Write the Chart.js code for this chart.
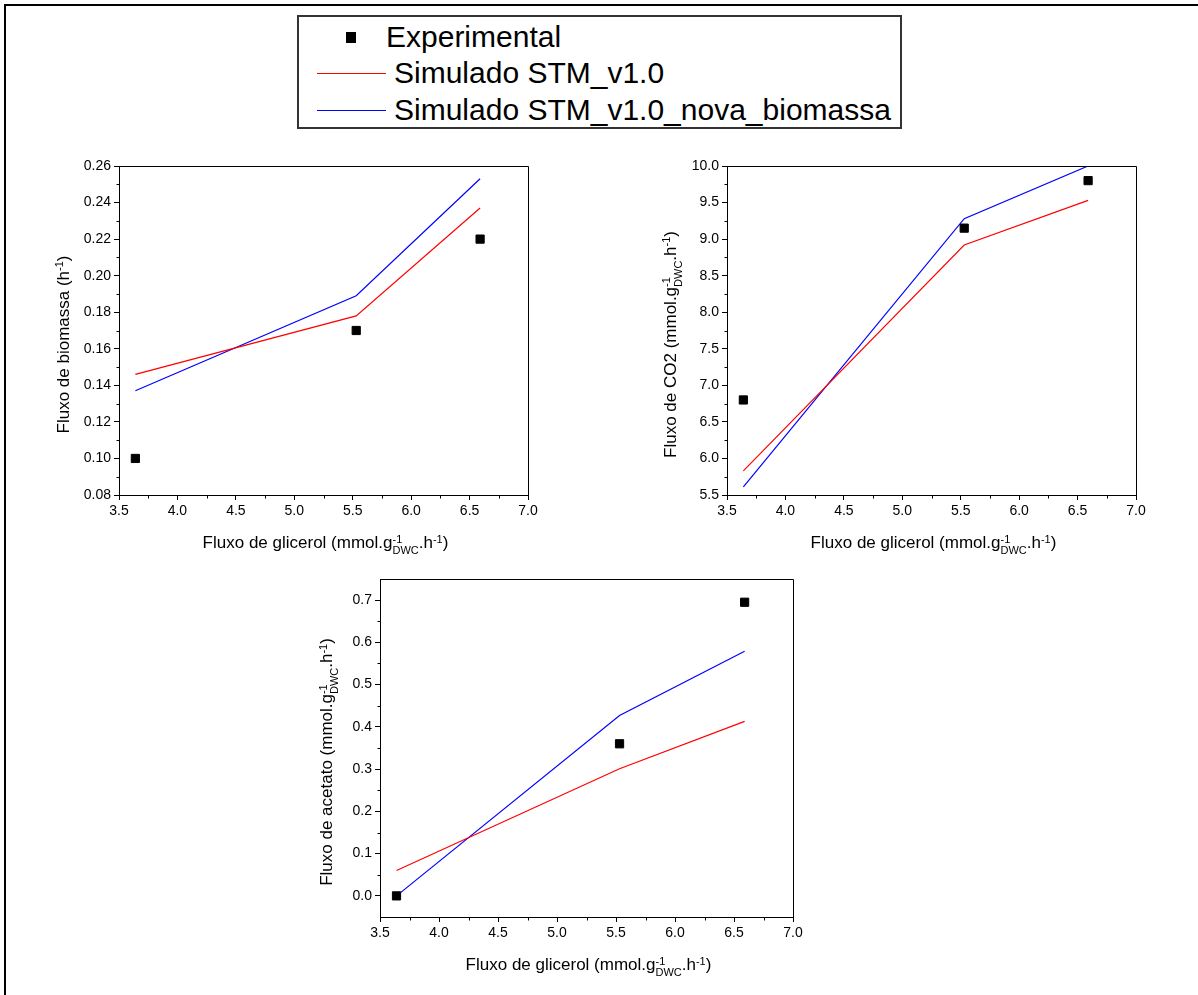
<!DOCTYPE html>
<html lang="pt">
<head>
    <meta charset="UTF-8">
    <title>Fluxos simulados vs experimentais</title>
    <script src="https://cdn.jsdelivr.net/npm/chart.js"></script>
    <style>
        html, body {
            margin: 0;
            padding: 0;
            background: #fff;
            width: 1198px;
            height: 995px;
            overflow: hidden;
            position: relative;
            font-family: "Liberation Sans", Arial, sans-serif;
        }

        #frame {
            position: absolute;
            left: 4px;
            top: 4px;
            width: 1300px;
            height: 1100px;
            border-top: 2px solid #000;
            border-left: 2px solid #000;
        }

        #legend {
            position: absolute;
            left: 297px;
            top: 15px;
            width: 605px;
            height: 114px;
            border: 2px solid #333;
            box-sizing: border-box;
        }

        #legend .txt {
            position: absolute;
            font-size: 30px;
            line-height: 30px;
            color: #000;
            white-space: nowrap;
        }

        #legend .sample {
            position: absolute;
            height: 1px;
        }

        #legend .square {
            position: absolute;
            width: 10px;
            height: 11px;
            background: #000;
        }

        canvas {
            position: absolute;
        }
    </style>
</head>
<body>
    <div id="frame"></div>

    <div id="legend">
        <div class="square" style="left:47px; top:15px;"></div>
        <div class="txt" style="left:87px; top:5px;">Experimental</div>
        <div class="sample" style="left:18px; top:56px; width:69px; background:#ff0000;"></div>
        <div class="txt" style="left:95px; top:41px;">Simulado STM_v1.0</div>
        <div class="sample" style="left:18px; top:93px; width:69px; background:#0000ff;"></div>
        <div class="txt" style="left:95px; top:78px;">Simulado STM_v1.0_nova_biomassa</div>
    </div>

    <canvas id="chartBio"></canvas>
    <canvas id="chartCO2"></canvas>
    <canvas id="chartAce"></canvas>

    <script>
        // valores
        const xGlicerol = [3.64, 5.53, 6.59];
        const xTicks = [3.5, 4.0, 4.5, 5.0, 5.5, 6.0, 6.5, 7.0];

        const bioExp = [0.100, 0.170, 0.220];
        const bioSim = [0.146, 0.178, 0.237];
        const bioNova = [0.137, 0.189, 0.253];
        const bioTicks = [0.08, 0.10, 0.12, 0.14, 0.16, 0.18, 0.20, 0.22, 0.24, 0.26];

        const co2Exp = [6.80, 9.15, 9.80];
        const co2Sim = [5.83, 8.92, 9.53];
        const co2Nova = [5.61, 9.28, 10.0];
        const co2Ticks = [5.5, 6.0, 6.5, 7.0, 7.5, 8.0, 8.5, 9.0, 9.5, 10.0];

        const aceExp = [0.000, 0.360, 0.695];
        const aceSim = [0.060, 0.301, 0.413];
        const aceNova = [0.000, 0.427, 0.579];
        const aceTicks = [0.0, 0.1, 0.2, 0.3, 0.4, 0.5, 0.6, 0.7];

        const xTitle = [{ t: 'Fluxo de glicerol (mmol.g' }, { sup: '-1', sub: 'DWC' }, { t: '.h' }, { sup: '-1' }, { t: ')' }];

        const FONT = '"Liberation Sans", Arial, sans-serif';
        Chart.defaults.font.family = FONT;
        Chart.defaults.color = '#000';

        const PAD_L = 90, PAD_T = 15, PAD_R = 15, PAD_B = 70;

        function pts(ys) {
            return xGlicerol.map((x, i) => ({ x: x, y: ys[i] }));
        }

        // texto com sobrescrito / subscrito
        function drawRich(ctx, segs, x, y, rotate) {
            const big = '17px ' + FONT, small = '11px ' + FONT;
            let total = 0;
            const widths = segs.map(s => {
                let w;
                if (s.t) {
                    ctx.font = big;
                    w = ctx.measureText(s.t).width;
                } else {
                    ctx.font = small;
                    w = Math.max(ctx.measureText(s.sup || '').width, ctx.measureText(s.sub || '').width);
                }
                total += w;
                return w;
            });
            ctx.save();
            ctx.translate(x, y);
            if (rotate) ctx.rotate(-Math.PI / 2);
            ctx.fillStyle = '#000';
            ctx.textAlign = 'left';
            ctx.textBaseline = 'alphabetic';
            let cx = -total / 2;
            segs.forEach((s, i) => {
                if (s.t) {
                    ctx.font = big;
                    ctx.fillText(s.t, cx, 0);
                } else {
                    ctx.font = small;
                    if (s.sup) ctx.fillText(s.sup, cx, -5.5);
                    if (s.sub) ctx.fillText(s.sub, cx, 6);
                }
                cx += widths[i];
            });
            ctx.restore();
        }

        const decor = {
            id: 'decor',
            afterDraw(chart) {
                const ctx = chart.ctx;
                const a = chart.chartArea;
                const o = chart.options.plugins.decor;
                const xs = chart.scales.x, ys = chart.scales.y;

                ctx.save();
                ctx.strokeStyle = '#000';
                ctx.lineWidth = 1;
                ctx.beginPath();
                // caixa do gráfico (topo e direita)
                const L = Math.round(a.left) + 0.5, R = Math.round(a.right) + 0.5;
                const T = Math.round(a.top) + 0.5, B = Math.round(a.bottom) + 0.5;
                ctx.moveTo(L, T); ctx.lineTo(R, T); ctx.lineTo(R, B);

                // ticks menores
                for (let i = 0; i < o.xMajor.length - 1; i++) {
                    const px = Math.round(xs.getPixelForValue((o.xMajor[i] + o.xMajor[i + 1]) / 2)) + 0.5;
                    ctx.moveTo(px, B); ctx.lineTo(px, B + 3);
                }
                for (let i = 0; i < o.yMajor.length - 1; i++) {
                    const py = Math.round(ys.getPixelForValue((o.yMajor[i] + o.yMajor[i + 1]) / 2)) + 0.5;
                    ctx.moveTo(L, py); ctx.lineTo(L - 3, py);
                }
                ctx.stroke();
                ctx.restore();

                drawRich(ctx, xTitle, (a.left + a.right) / 2 + 2, a.bottom + 53, false);
                drawRich(ctx, o.yTitle, a.left - o.yOff, (a.top + a.bottom) / 2 + 14, true);
            }
        };

        function makeChart(id, box, exp, sim, nova, yMin, yMax, yTicks, digits, yTitle, yOff) {
            const el = document.getElementById(id);
            const w = box.right - box.left + PAD_L + PAD_R;
            const h = box.bottom - box.top + PAD_T + PAD_B;
            el.width = w;
            el.height = h;
            el.style.left = (box.left - PAD_L) + 'px';
            el.style.top = (box.top - PAD_T) + 'px';
            el.style.width = w + 'px';
            el.style.height = h + 'px';

            return new Chart(el, {
                type: 'scatter',
                data: {
                    datasets: [
                        {
                            label: 'Experimental',
                            data: pts(exp),
                            pointStyle: 'rect',
                            pointRadius: 5.8,
                            backgroundColor: '#000',
                            borderColor: '#000',
                            pointBorderWidth: 1,
                            showLine: false
                        },
                        {
                            label: 'Simulado STM_v1.0',
                            data: pts(sim),
                            showLine: true,
                            borderColor: '#ff0000',
                            borderWidth: 1.2,
                            pointRadius: 0
                        },
                        {
                            label: 'Simulado STM_v1.0_nova_biomassa',
                            data: pts(nova),
                            showLine: true,
                            borderColor: '#0000ff',
                            borderWidth: 1.2,
                            pointRadius: 0
                        }
                    ]
                },
                options: {
                    responsive: false,
                    animation: false,
                    devicePixelRatio: 1,
                    layout: { padding: { top: PAD_T, right: PAD_R, left: 0, bottom: 0 } },
                    plugins: {
                        legend: { display: false },
                        tooltip: { enabled: false },
                        decor: { xMajor: xTicks, yMajor: yTicks, yTitle: yTitle, yOff: yOff }
                    },
                    scales: {
                        x: {
                            type: 'linear',
                            min: 3.5,
                            max: 7.0,
                            afterBuildTicks: s => { s.ticks = xTicks.map(v => ({ value: v })); },
                            afterFit: s => { s.height = PAD_B; },
                            ticks: {
                                color: '#000',
                                font: { size: 14 },
                                padding: 3,
                                maxRotation: 0,
                                autoSkip: false,
                                callback: v => v.toFixed(1)
                            },
                            grid: { drawOnChartArea: false, drawTicks: true, tickLength: 5, color: '#000' },
                            border: { color: '#000', width: 1 }
                        },
                        y: {
                            type: 'linear',
                            min: yMin,
                            max: yMax,
                            afterBuildTicks: s => { s.ticks = yTicks.map(v => ({ value: v })); },
                            afterFit: s => { s.width = PAD_L; },
                            ticks: {
                                color: '#000',
                                font: { size: 14 },
                                padding: 3,
                                autoSkip: false,
                                callback: v => v.toFixed(digits)
                            },
                            grid: { drawOnChartArea: false, drawTicks: true, tickLength: 5, color: '#000' },
                            border: { color: '#000', width: 1 }
                        }
                    }
                },
                plugins: [decor]
            });
        }

        makeChart('chartBio', { left: 119, right: 528, top: 166, bottom: 495 },
            bioExp, bioSim, bioNova, 0.08, 0.26, bioTicks, 2,
            [{ t: 'Fluxo de biomassa (h' }, { sup: '-1' }, { t: ')' }], 50.5);

        makeChart('chartCO2', { left: 727, right: 1136, top: 166, bottom: 495 },
            co2Exp, co2Sim, co2Nova, 5.5, 10.0, co2Ticks, 1,
            [{ t: 'Fluxo de CO2 (mmol.g' }, { sup: '-1', sub: 'DWC' }, { t: '.h' }, { sup: '-1' }, { t: ')' }], 51.5);

        makeChart('chartAce', { left: 380, right: 793, top: 579, bottom: 917 },
            aceExp, aceSim, aceNova, -0.05, 0.75, aceTicks, 1,
            [{ t: 'Fluxo de acetato (mmol.g' }, { sup: '-1', sub: 'DWC' }, { t: '.h' }, { sup: '-1' }, { t: ')' }], 48);
    </script>
</body>
</html>
